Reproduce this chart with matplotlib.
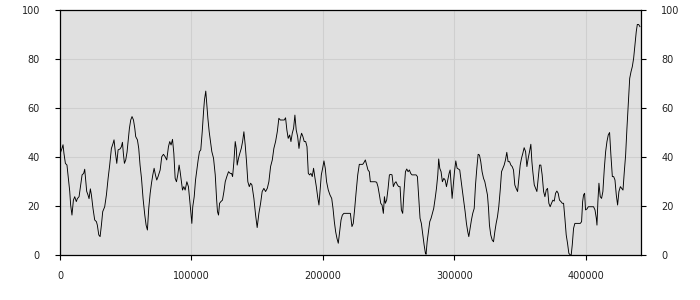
import matplotlib
matplotlib.use("Agg")
import matplotlib.pyplot as plt

x_vals = [
    0, 500, 1500, 2300, 3000, 4100, 5300, 6100, 7400, 8100, 9100, 10200, 11200, 12400, 13200, 14500,
    15700, 16800, 18000, 18800, 19300, 20300, 21300, 22100, 23100, 23900, 25100, 26400, 27700, 28400,
    29500, 30500, 31500, 32500, 34000, 35300, 36600, 37800, 39100, 40400, 41100, 42100, 43200, 44200,
    45700, 46700, 47500, 48200, 49000, 50000, 51000, 51800, 52800, 53800, 54800, 55900, 56900, 57600,
    58900, 59900, 60900, 62000, 63200, 64500, 65500, 66500, 67500, 68600, 69600, 70600, 71600, 72600,
    73600, 74600,
    76200, 77400, 78700, 80000, 81200, 82500, 83500, 84500, 85600, 86600, 87600, 88600, 89600, 90600,
    91400, 92200, 93200, 94200, 95200, 96500, 97700, 98800, 99800, 100300, 101000, 102100, 103100,
    104100, 105100, 106100, 107100, 108200, 109200, 109900, 110900, 111700, 112500, 113500, 114500,
    115500, 116800, 118100, 119100, 119800, 120600, 121400, 122400, 123600, 124700, 125700, 126900,
    128200, 129500, 130500, 131300, 132300, 133300, 134100, 134800, 135800, 136800, 137900, 138900,
    139900, 140900, 141900, 142900, 144000, 145000, 146000,
    147500, 148800, 150000, 151300, 152600, 153800, 155100, 156400, 157700, 158900, 160200, 161500,
    162700, 164000, 165300, 166500, 167600, 168600, 169600, 170600, 171600, 172600, 173600, 174700,
    175700, 176700, 177700, 178700, 179700, 180800, 181800, 182800, 183800, 184800, 185800, 186900,
    187900, 188900, 189900, 190900, 191900, 192900, 194000, 195000, 196000, 197000, 197800, 198800,
    199800, 200800, 201800, 202800, 204100, 205400, 206700, 207700, 208700, 209700, 210700, 211700,
    212700, 213800, 214800, 216000, 217300, 218600, 219900, 220900, 221900,
    222100, 223100, 224200, 225200, 226500, 227700, 229000, 230300, 231300, 232300, 233300, 234300,
    235300, 236100, 237100, 238400, 239700, 240900, 241900, 243000, 244000, 245000, 246000, 246800,
    247500, 248500, 249600, 250600, 251600, 252600, 253600, 254600, 255600, 256700, 257700, 258700,
    259700, 260700, 261700, 262800, 263800, 264800, 265800, 266800, 267800, 268900, 269900, 270900,
    271900, 272900, 273900, 274900, 276000, 277000, 278000, 278500, 279300, 280300, 281300, 282300,
    283300, 284300, 285400, 286400, 287400, 288100, 288900, 289900, 290900, 292000, 293000, 294000,
    295000, 296000,
    296800, 297500, 298300, 299100, 300100, 301100, 302100, 303100, 304100, 305200, 306200, 307200,
    308200, 309200, 310200, 311000, 312000, 313000, 314000, 315100, 316100, 317100, 318100, 319100,
    320100, 321100, 322200, 323200, 324200, 325200, 326000, 326700, 327700, 328800, 329800, 330800,
    331800, 332800, 333800, 334900, 335900, 336900, 337900, 338900, 339900, 340900, 342000, 343000,
    344000, 345000, 346000, 347000, 348100, 349100, 350100, 351100, 352100, 353100, 354200, 355200,
    356200, 357200, 358200, 359000, 359700, 360800, 361800, 362800, 363800, 364800, 365800, 366800,
    367900, 368900, 369900,
    370900, 371900, 372900, 373900, 375000, 376000, 377000, 378000, 379000, 380000, 381100, 382100,
    383100, 384100, 385100, 386100, 387100, 388200, 388900, 389700, 390700, 391700, 392700, 393800,
    394800, 395800, 396800, 397600, 398300, 399100, 399800, 400900, 401900, 402900, 403900, 404900,
    405900, 407000, 408000, 408500, 409200, 410000, 411000, 412000, 413000, 414100, 415100, 416100,
    417100, 418100, 419100, 420200, 421200, 422200, 423200, 424200, 425200, 426300, 427300, 428300,
    429300, 430300, 431300, 432300, 433400, 434400, 435400, 436400, 437400, 438400, 439200, 440200,
    441200,
]

y_vals = [
    40.5, 42, 43.5, 45, 41.5, 37.4, 36.7, 32.7, 26, 20.4, 16.3, 22.4, 23.8, 21.8, 23, 23.8,
    28.6, 32.7, 33.3, 35, 32, 26, 24.5, 23, 27, 24.5, 19, 14.3, 13.6, 12.2,
    8.2, 7.5, 12.2, 17.7, 19.7, 24.5, 31.3, 36.7, 43.5, 45.6, 47, 42, 37.4, 42.9,
    43.3, 44.2, 46, 41.5, 37.4, 38.8, 42, 46.3, 51.7, 55.1, 56.5, 55.1, 51.7, 48.3,
    47, 43.5, 36.7, 31.3, 23, 16.3, 12.2, 10.2, 19, 25.2, 29.3, 32.7, 35.4, 32.7,
    30.6, 32,
    34.7, 40.1, 41.1, 40.1, 38.8, 44.2, 46.3, 44.9, 47.2, 41.5, 31.3, 29.9, 32.7, 36.7,
    34, 30.6, 26.5, 27.9, 26.5, 29.9, 27.9, 21.8, 15.6, 12.9, 19.7, 23.8, 30.6,
    34.7, 38.8, 42.2, 42.9, 50.3, 58.5, 63.3, 66.9, 61.2, 55.8, 50.3, 46.3,
    42.2, 39.5, 32.7, 23.1, 17.7, 16.3, 21.1, 21.8, 22.4, 25.9, 29.9, 32,
    34, 33.3, 33.3, 32, 38.1, 46.3, 43.5, 36.7, 39.5, 41.5, 43.5, 46.3,
    50.3, 44.9, 38.1, 29.9, 27.9, 29.3, 28.6,
    23.1, 16.3, 11.2, 17, 21.1, 25.9, 27.2, 25.9, 27.2, 29.9, 36.1, 38.8,
    43.5, 46.3, 50.3, 55.8, 55.1, 55.1, 55.1, 55.1, 56, 51, 47.6, 49,
    46.3, 49.7, 51.7, 57.1, 51, 48.3, 43.5, 47.6, 49.7, 48.3, 46.3, 46.3,
    44.2, 33.3, 32.7, 33.3, 32, 35.4, 31.3, 27.9, 23.8, 20.4, 25.9, 32.7,
    35.4, 38.4, 35.4, 29.9, 26.5, 24.5, 23.1, 19, 13.6, 9.5, 6.8, 4.8,
    9.5, 14.3, 16.3, 17, 17, 17, 17, 17, 12.2,
    11.6, 12.9, 19, 25.2, 32.7, 37, 37, 37, 37.8, 38.8, 36.7, 34.7,
    34, 29.9, 29.9, 29.9, 29.9, 29.7, 27.9, 24.5, 21.1, 20.4, 17, 23.8,
    21.1, 22.4, 27.2, 32.7, 32.9, 32.7, 27.9, 29.3, 29.9, 28.6, 27.9, 27.9,
    18.4, 17, 25.9, 34, 35.1, 34, 34.7, 33.3, 32.7, 32.7, 32.7, 32.7,
    32, 23.8, 15, 12.9, 8.2, 4.1, 0.7, 0.3, 5.4, 9.5, 13.6, 15,
    17, 19, 23.1, 27.2, 32.7, 39.2, 35.4, 34, 29.9, 31.3, 30.6, 27.9,
    30.6, 33.3,
    34.7, 29.3, 23.1, 27.9, 34, 38.4, 35.4, 35.1, 34.7, 29.9, 25.9, 21.8,
    17.7, 12.9, 9.5, 7.5, 10.9, 14.3, 17, 19, 28.6, 35.4, 41.1, 40.8,
    38.1, 34, 31.3, 29.9, 27.2, 24.5, 19, 12.2, 8.2, 6.1, 5.4, 9.5,
    12.9, 15.6, 19.7, 26.5, 34, 35.4, 36.7, 38.8, 41.9, 38.1, 38.1, 36.7,
    36.1, 34.7, 28.6, 27.2, 25.9, 31.3, 36.7, 39.5, 41.5, 43.8, 42.2, 36.1,
    39.5, 42.2, 45.2, 38.1, 34, 28.6, 27.2, 25.9, 31.3, 36.7, 36.7, 32.7,
    25.9, 23.8, 26.5,
    27.2, 21.1, 19.7, 21.1, 22.4, 22, 25.2, 26.1, 25.2, 22.4, 21.8, 21.1,
    21.1, 15, 8.2, 4.8, 0.7, 0, 0, 4.1, 10.9, 12.9, 12.9, 12.9,
    12.9, 12.9, 13.6, 21.8, 24.5, 25.2, 18.4, 18.8, 19.7, 19.7, 19.7, 19.7,
    19.7, 18.4, 15, 12.2, 21.8, 29.3, 23.8, 23.1, 25.9, 35.4, 42.2, 46.3,
    49, 50, 40.8, 32, 32, 30.6, 24.5, 20.4, 25.9, 27.9, 27.2, 26.5,
    34, 40.8, 51.7, 61.2, 72.1, 74.8, 76.9, 80.3, 85.7, 91.2, 94.1, 94.1,
    93.2,
]

x_ticks = [0, 100000, 200000, 300000, 400000]
y_ticks = [0, 20, 40, 60, 80, 100]

fig = plt.figure(figsize=(7, 3), dpi=100)
ax = fig.add_axes([60 / 700, 45 / 300, 581 / 700, 245 / 300])
ax.set_facecolor("#e0e0e0")
ax.plot(x_vals, y_vals, color="black", linewidth=0.65, zorder=3)

ax.set_xlim(0, 442000)
ax.set_ylim(0, 100)
ax.set_xticks(x_ticks)
ax.set_xticklabels([str(t) for t in x_ticks])
ax.set_yticks(y_ticks)
ax.set_yticklabels([str(t) for t in y_ticks])

ax.grid(True, color="#cfcfcf", linewidth=0.8, zorder=1)
ax.set_axisbelow(True)

for s in ax.spines.values():
    s.set_color("black")
    s.set_linewidth(0.9)

ax.tick_params(axis="y", which="both", left=True, right=True, labelleft=True,
               labelright=True, direction="out", length=3.5, width=0.8,
               pad=11, labelsize=7, labelcolor="#222222")
ax.tick_params(axis="x", direction="out", length=3.5, width=0.8, pad=8,
               labelsize=7, labelcolor="#222222")

fig.savefig("out.png", dpi=100)
